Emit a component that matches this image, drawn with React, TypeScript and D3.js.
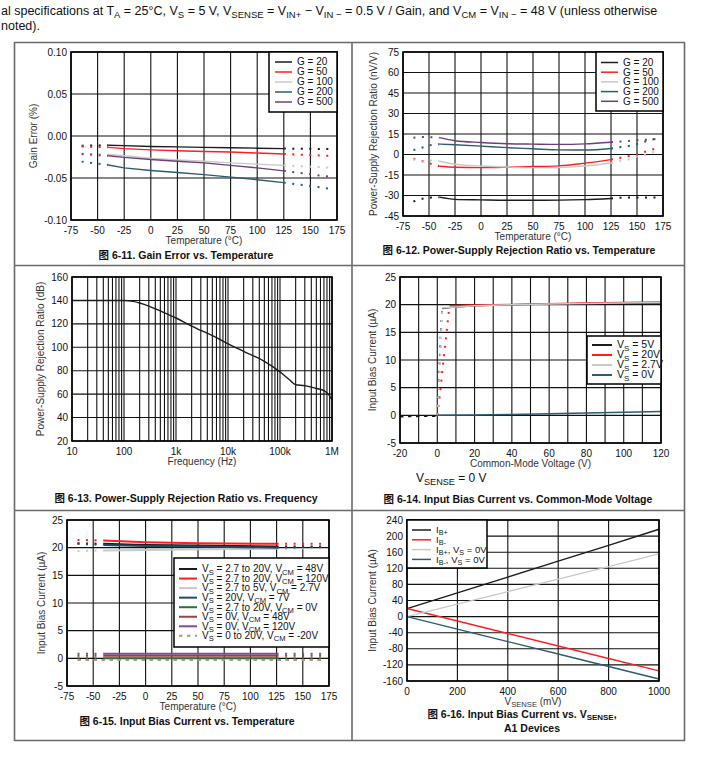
import React from 'react';
import * as d3 from 'd3';

const FONT = '"Liberation Sans", Arial, Helvetica, sans-serif';
const CJK = '"Noto Sans CJK SC", "Liberation Sans", sans-serif';

const BLACK = '#1c1c1c';
const RED = '#ff1e1e';
const GREY = '#c9c9c9';
const TEAL = '#2c5c71';
const PURPLE = '#6f3f7b';

// ---------- Fig 6-11 gain error vs temperature ----------
const tempTicks = [-75, -50, -25, 0, 25, 50, 75, 100, 125, 150, 175];
const tempLabels = ['-75', '-50', '-25', '0', '25', '50', '75', '100', '125', '150', '175'];
const tempSolid = [-40, -25, 0, 25, 50, 75, 100, 125];
const tempDotL = [-65, -40];
const tempDotR = [125, 170];
const gainLegend = ['G = 20', 'G = 50', 'G = 100', 'G = 200', 'G = 500'];
const gainErrTicks = [0.1, 0.05, 0, -0.05, -0.1];
const gainErrLabels = ['0.10', '0.05', '0.00', '-0.05', '-0.10'];
const gainErr20 = [-0.011, -0.0115, -0.0125, -0.013, -0.0135, -0.014, -0.0145, -0.015];
const gainErr50 = [-0.0135, -0.015, -0.0165, -0.0175, -0.0185, -0.019, -0.0203, -0.0214];
const gainErr100 = [-0.022, -0.0235, -0.0265, -0.0285, -0.03, -0.032, -0.0335, -0.035];
const gainErr200 = [-0.0345, -0.038, -0.041, -0.0435, -0.046, -0.049, -0.052, -0.0555];
const gainErr500 = [-0.0235, -0.0255, -0.028, -0.03, -0.032, -0.035, -0.038, -0.0415];
const gainErrL = [[-0.0115, -0.011], [-0.0125, -0.0135], [-0.021, -0.022], [-0.0305, -0.0345], [-0.0215, -0.0235]];
const gainErrR = [[-0.015, -0.0155], [-0.0214, -0.0237], [-0.035, -0.0377], [-0.0555, -0.063], [-0.0415, -0.0488]];

// ---------- Fig 6-12 PSRR vs temperature ----------
const psrrTTicks = [75, 60, 45, 30, 15, 0, -15, -30, -45];
const psrrDotLT = [-65, -55, -47, -40];
const psrrDotRT = [125, 135, 145, 152, 160, 168];
const psrr20 = [-31.2, -32.8, -33.2, -33.5, -33.5, -33.4, -33, -32.2];
const psrr50 = [-8.6, -9.3, -9.6, -9.3, -8.8, -8.3, -6.3, -3.7];
const psrr100 = [-4.9, -7.1, -8.4, -9.2, -9.6, -9.5, -8.4, -6.2];
const psrr200 = [7.6, 7.1, 6.1, 5.0, 4.2, 3.4, 3.3, 4.4];
const psrr500 = [12.3, 10.1, 8.8, 7.9, 7.6, 7.4, 7.8, 9.0];
const psrrL = [[-34.4, -32.2, -31.5, -31.2], [-3.0, -5.2, -7.0, -8.6], [-3.5, -5.4, -4.3, -4.9], [3.2, 5.4, 7.1, 7.6], [12.3, 12.8, 12.6, 12.3]];
const psrrR = [
  [-32.2, -31.6, -31.5, -31.4, -31.4, -31.4],
  [-3.7, -2.2, -0.7, 0.7, 2.5, 4.4],
  [-6.2, -4.4, -3.0, -1.0, 0.3, 2.5],
  [4.4, 5.6, 6.6, 8.1, 10, 11.5],
  [9.0, 9.6, 10.1, 10.6, 10.8, 11.3],
];

// ---------- Fig 6-13 PSRR vs frequency ----------
const freqTicks = [10, 100, 1e3, 1e4, 1e5, 1e6];
const freqLabels = ['10', '100', '1k', '10k', '100k', '1M'];
const dbTicks = [160, 140, 120, 100, 80, 60, 40, 20];
const psrrFreqHz = [10, 100, 150, 200, 300, 500, 1000, 2000, 3000, 5000, 10000, 20000, 50000, 100000, 150000, 200000, 300000, 500000, 700000, 850000, 1000000];
const psrrDb = [140, 140, 139.2, 137.8, 135.2, 131, 125, 118, 114.5, 110, 103, 96.5, 88, 79, 72.5, 68, 67.3, 64.8, 63, 60, 55];

// ---------- Fig 6-14 bias current vs common-mode voltage ----------
const vcmTicks = [-20, 0, 20, 40, 60, 80, 100, 120];
const vcmGrid = [-20, -10, 0, 10, 20, 30, 40, 50, 60, 70, 80, 90, 100, 110, 120];
const ibTicks = [25, 20, 15, 10, 5, 0, -5];
const vcmLegend = ['V_{S} = 5V', 'V_{S} = 20V', 'V_{S} = 2.7V', 'V_{S} = 0V'];
const vcm5 = [2.7, 10, 20, 40, 60, 80, 100, 120];
const ib5V = [19.3, 19.6, 19.8, 20.0, 20.1, 20.2, 20.25, 20.3];
const vcm20 = [6.5, 10, 20, 40, 60, 80, 100, 120];
const ib20V = [19.8, 19.85, 19.95, 20.05, 20.15, 20.3, 20.4, 20.5];
const vcm27 = [2.7, 10, 20, 40, 60, 80, 100, 120];
const ib27V = [19.4, 19.6, 19.8, 20.0, 20.1, 20.2, 20.3, 20.4];
const vcm0 = [0, 20, 40, 60, 80, 100, 120];
const ib0V = [0, 0.05, 0.15, 0.3, 0.42, 0.56, 0.7];
const rampVcm5 = [0, 0.6, 1.2, 1.8, 2.4, 2.7];
const rampIb5 = [0, 4, 9, 14, 18, 19.3];
const rampVcm27 = [0, 0.8, 1.5, 2.1, 2.7];
const rampIb27 = [0, 5, 10, 15, 19.4];
const rampVcm20 = [0, 1.5, 3, 4.5, 6.5];
const rampIb20 = [0, 4, 9, 13.5, 19.8];
const negVcm = [-20, 0];
const negIb = [-0.25, -0.15];

// ---------- Fig 6-15 bias current vs temperature ----------
const ibtSolidT = [-40, 0, 50, 125];
const ibtLegend = [
  'V_{S} = 2.7 to 20V, V_{CM} = 48V',
  'V_{S} = 2.7 to 20V, V_{CM} = 120V',
  'V_{S} = 2.7 to 5V, V_{CM} = 2.7V',
  'V_{S} = 20V, V_{CM} = 7V',
  'V_{S} = 2.7 to 20V, V_{CM} = 0V',
  'V_{S} = 0V, V_{CM} = 48V',
  'V_{S} = 0V, V_{CM} = 120V',
  'V_{S} = 0 to 20V, V_{CM} = -20V',
];
const ibTTicks = [25, 20, 15, 10, 5, 0, -5];
const ibt48 = [20.7, 20.5, 20.4, 20.2];
const ibt120 = [21.3, 21.0, 20.8, 20.7];
const ibt27 = [19.5, 19.6, 19.7, 19.8];
const ibt7 = [20.5, 20.3, 20.2, 20.0];
const ibt0V = [0.0, 0.0, 0.0, 0.0];
const ibt0V48 = [0.45, 0.45, 0.45, 0.45];
const ibt0V120 = [0.85, 0.85, 0.85, 0.85];
const ibtL = [[20.8, 20.7], [21.4, 21.3], [19.4, 19.5], [20.7, 20.5], [0, 0], [0.45, 0.45], [0.85, 0.85]];
const ibtR = [[20.2, 20.2], [20.7, 20.7], [19.8, 19.9], [20.0, 20.1], [0, 0], [0.45, 0.45], [0.85, 0.85]];
const ibtNegT = [-65, 170];
const ibtNeg = [-0.3, -0.3];

// ---------- Fig 6-16 bias current vs VSENSE ----------
const vsenseTicks = [0, 200, 400, 600, 800, 1000];
const ibSenseTicks = [240, 200, 160, 120, 80, 40, 0, -40, -80, -120, -160];
const senseLegend = ['I_{B+}', 'I_{B-}', 'I_{B+}, V_{S} = 0V', 'I_{B-}, V_{S} = 0V'];
const vsense = [0, 200, 400, 600, 800, 1000];
const ibPlus = [20, 59, 98, 138, 177, 217];
const ibMinus = [20, -11, -42, -73, -104, -135];
const ibPlus0 = [0, 31, 62, 93, 124, 156];
const ibMinus0 = [0, -31, -62, -93, -124, -155];

type Seg = { xs: number[]; ys: number[]; style?: 'dot' | 'dash' };
type Series = { label: string; color: string; segs: Seg[]; w?: number; dashLegend?: boolean };
type Leg = { x: number; y: number; w: number; h: number; row0: number; step: number; lx: number; lw: number; fs: number; sw?: number };

// text with _{...} subscripts
function Rich({ s, size }: { s: string; size: number }) {
  const parts = s.split(/(_\{[^}]*\})/).filter((p) => p.length > 0);
  const shift = size * 0.22;
  let prev = false;
  return (
    <>
      {parts.map((p, i) => {
        const sub = p.startsWith('_{');
        const dy = (sub ? shift : 0) - (prev ? shift : 0);
        prev = sub;
        return (
          <tspan key={i} dy={dy || undefined} fontSize={sub ? size * 0.76 : undefined}>
            {sub ? p.slice(2, -1) : p}
          </tspan>
        );
      })}
    </>
  );
}

function Caption({ x, y, text }: { x: number; y: number; text: string }) {
  return (
    <text x={x} y={y} textAnchor="middle" fontSize={10.5} fontWeight="bold" fill="#111">
      <tspan fontFamily={CJK}>图</tspan>
      <tspan> </tspan>
      <Rich s={text} size={10.5} />
    </text>
  );
}

function Chart(p: {
  box: [number, number, number, number];
  x: any;
  y: any;
  xGrid: number[];
  yGrid: number[];
  xTicks: number[];
  xLabels: string[];
  yTicks: number[];
  yLabels: string[];
  xTitle: string;
  yTitle: string;
  yTitleX: number;
  series: Series[];
  legend?: Leg;
  curve?: any;
}) {
  const [l, t, r, b] = p.box;
  const path = (seg: Seg) =>
    d3
      .line<number>()
      .x((_, i) => p.x(seg.xs[i]))
      .y((v) => p.y(v))
      .curve(p.curve ?? d3.curveLinear)(seg.ys) ?? '';
  const lg = p.legend;
  return (
    <g>
      {p.xGrid.map((v) => (
        <line key={'gx' + v} x1={p.x(v)} x2={p.x(v)} y1={t} y2={b} stroke="#111" strokeWidth={1.1} />
      ))}
      {p.yGrid.map((v) => (
        <line key={'gy' + v} x1={l} x2={r} y1={p.y(v)} y2={p.y(v)} stroke="#111" strokeWidth={1.1} />
      ))}
      {p.series.map((s, si) =>
        s.segs.map((seg, k) => (
          <path
            key={si + '-' + k}
            d={path(seg)}
            fill="none"
            stroke={s.color}
            strokeWidth={seg.style === 'dot' ? 2 : s.w ?? 1.4}
            strokeDasharray={seg.style === 'dot' ? '2 6.5' : seg.style === 'dash' ? '3.5 4.5' : undefined}
          />
        ))
      )}
      <rect x={l} y={t} width={r - l} height={b - t} fill="none" stroke="#000" strokeWidth={1.6} />
      {p.xTicks.map((v, i) => (
        <text key={'tx' + v} x={p.x(v)} y={b + 13.5} textAnchor="middle" fontSize={10} fill="#111">
          {p.xLabels[i]}
        </text>
      ))}
      {p.yTicks.map((v, i) => (
        <text key={'ty' + v} x={l - 4} y={p.y(v) + 3.5} textAnchor="end" fontSize={10} fill="#111">
          {p.yLabels[i]}
        </text>
      ))}
      <text x={(l + r) / 2} y={b + 24} textAnchor="middle" fontSize={10} fill="#333">
        <Rich s={p.xTitle} size={10} />
      </text>
      <text
        transform={`translate(${p.yTitleX + 3.5},${(t + b) / 2}) rotate(-90)`}
        textAnchor="middle"
        fontSize={10}
        fill="#333"
      >
        {p.yTitle}
      </text>
      {lg && (
        <g>
          <rect x={lg.x} y={lg.y} width={lg.w} height={lg.h} fill="#fff" stroke="#000" strokeWidth={1.5} />
          {p.series.map((s, i) => {
            const yy = lg.row0 + i * lg.step;
            return (
              <g key={'lg' + i}>
                <line
                  x1={lg.lx}
                  x2={lg.lx + lg.lw}
                  y1={yy}
                  y2={yy}
                  stroke={s.color}
                  strokeWidth={lg.sw ?? 1.5}
                  strokeDasharray={s.dashLegend ? '3.5 4.5' : undefined}
                />
                <text x={lg.lx + lg.lw + 5} y={yy + 3.3} fontSize={lg.fs} fill="#111">
                  <Rich s={s.label} size={lg.fs} />
                </text>
              </g>
            );
          })}
        </g>
      )}
    </g>
  );
}

const tempSeries = (
  label: string,
  color: string,
  solid: number[],
  solidT: number[],
  lt: number[],
  lv: number[],
  rt: number[],
  rv: number[],
  w?: number
): Series => ({
  label,
  color,
  w,
  segs: [
    { xs: lt, ys: lv, style: 'dot' },
    { xs: rt, ys: rv, style: 'dot' },
    { xs: solidT, ys: solid },
  ],
});

function Fig611() {
  const x = d3.scaleLinear().domain([-75, 175]).range([71, 337]);
  const y = d3.scaleLinear().domain([-0.1, 0.1]).range([220, 52]);
  const colors = [BLACK, RED, GREY, TEAL, PURPLE];
  const vals = [gainErr20, gainErr50, gainErr100, gainErr200, gainErr500];
  const series = gainLegend.map((g, i) =>
    tempSeries(g, colors[i], vals[i], tempSolid, tempDotL, gainErrL[i], tempDotR, gainErrR[i])
  );
  return (
    <g>
      <Chart
        box={[71, 52, 337, 220]}
        x={x}
        y={y}
        xGrid={tempTicks}
        yGrid={gainErrTicks}
        xTicks={tempTicks}
        xLabels={tempLabels}
        yTicks={gainErrTicks}
        yLabels={gainErrLabels}
        xTitle="Temperature (°C)"
        yTitle="Gain Error (%)"
        yTitleX={33}
        series={series}
        legend={{ x: 269, y: 52, w: 68, h: 60, row0: 62, step: 10, lx: 275, lw: 17, fs: 10 }}
      />
      <Caption x={186} y={259} text="6-11. Gain Error vs. Temperature" />
    </g>
  );
}

function Fig612() {
  const x = d3.scaleLinear().domain([-75, 175]).range([403, 663]);
  const y = d3.scaleLinear().domain([-45, 75]).range([216, 52]);
  const colors = [BLACK, RED, GREY, TEAL, PURPLE];
  const vals = [psrr20, psrr50, psrr100, psrr200, psrr500];
  const series = gainLegend.map((g, i) =>
    tempSeries(g, colors[i], vals[i], tempSolid, psrrDotLT, psrrL[i], psrrDotRT, psrrR[i])
  );
  return (
    <g>
      <Chart
        box={[403, 52, 663, 216]}
        x={x}
        y={y}
        xGrid={tempTicks}
        yGrid={psrrTTicks}
        xTicks={tempTicks}
        xLabels={tempLabels}
        yTicks={psrrTTicks}
        yLabels={psrrTTicks.map(String)}
        xTitle="Temperature (°C)"
        yTitle="Power-Supply Rejection Ratio (nV/V)"
        yTitleX={373}
        series={series}
        curve={d3.curveMonotoneX}
        legend={{ x: 596, y: 52, w: 67, h: 59, row0: 62.5, step: 9.7, lx: 601, lw: 17, fs: 10 }}
      />
      <Caption x={519} y={254} text="6-12. Power-Supply Rejection Ratio vs. Temperature" />
    </g>
  );
}

function Fig613() {
  const x = d3.scaleLog().domain([10, 1e6]).range([72, 332]);
  const y = d3.scaleLinear().domain([20, 160]).range([441, 277]);
  const series: Series[] = [{ label: 'PSRR', color: BLACK, segs: [{ xs: psrrFreqHz, ys: psrrDb }] }];
  return (
    <g>
      <Chart
        box={[72, 277, 332, 441]}
        x={x}
        y={y}
        xGrid={x.ticks()}
        yGrid={dbTicks}
        xTicks={freqTicks}
        xLabels={freqLabels}
        yTicks={dbTicks}
        yLabels={dbTicks.map(String)}
        xTitle="Frequency (Hz)"
        yTitle="Power-Supply Rejection Ratio (dB)"
        yTitleX={40}
        series={series}
        curve={d3.curveMonotoneX}
      />
      <Caption x={186} y={502} text="6-13. Power-Supply Rejection Ratio vs. Frequency" />
    </g>
  );
}

function Fig614() {
  const x = d3.scaleLinear().domain([-20, 120]).range([400, 661]);
  const y = d3.scaleLinear().domain([-5, 25]).range([443, 277]);
  const series: Series[] = [
    { label: vcmLegend[0], color: BLACK, w: 1.5, segs: [{ xs: negVcm, ys: negIb, style: 'dash' }, { xs: rampVcm5, ys: rampIb5, style: 'dot' }, { xs: vcm5, ys: ib5V }] },
    { label: vcmLegend[1], color: RED, w: 1.5, segs: [{ xs: rampVcm20, ys: rampIb20, style: 'dot' }, { xs: vcm20, ys: ib20V }] },
    { label: vcmLegend[2], color: GREY, w: 1.5, segs: [{ xs: rampVcm27, ys: rampIb27, style: 'dot' }, { xs: vcm27, ys: ib27V }] },
    { label: vcmLegend[3], color: TEAL, w: 1.5, segs: [{ xs: vcm0, ys: ib0V }] },
  ];
  return (
    <g>
      <Chart
        box={[400, 277, 661, 443]}
        x={x}
        y={y}
        xGrid={vcmGrid}
        yGrid={ibTicks}
        xTicks={vcmTicks}
        xLabels={vcmTicks.map(String)}
        yTicks={ibTicks}
        yLabels={ibTicks.map(String)}
        xTitle="Common-Mode Voltage (V)"
        yTitle="Input Bias Current (µA)"
        yTitleX={372}
        series={series}
        legend={{ x: 587, y: 336, w: 74, h: 48, row0: 345, step: 10, lx: 592, lw: 20, fs: 10.5, sw: 2 }}
      />
      <text x={416} y={482} fontSize={12} fill="#111">
        <Rich s="V_{SENSE} = 0 V" size={12} />
      </text>
      <Caption x={518} y={503} text="6-14. Input Bias Current vs. Common-Mode Voltage" />
    </g>
  );
}

function Fig615() {
  const x = d3.scaleLinear().domain([-75, 175]).range([67, 329]);
  const y = d3.scaleLinear().domain([-5, 25]).range([686, 520]);
  const colors = [BLACK, RED, GREY, '#1f4d62', '#2f6f3f', '#a04040', '#7b4c94'];
  const vals = [ibt48, ibt120, ibt27, ibt7, ibt0V, ibt0V48, ibt0V120];
  const series: Series[] = vals.map((v, i) =>
    tempSeries(ibtLegend[i], colors[i], v, ibtSolidT, tempDotL, ibtL[i], tempDotR, ibtR[i], 2)
  );
  series.push({ label: ibtLegend[7], color: '#a89b78', dashLegend: true, w: 1.8, segs: [{ xs: ibtNegT, ys: ibtNeg, style: 'dash' }] });
  return (
    <g>
      <Chart
        box={[67, 520, 329, 686]}
        x={x}
        y={y}
        xGrid={tempTicks}
        yGrid={ibTTicks}
        xTicks={tempTicks}
        xLabels={tempLabels}
        yTicks={ibTTicks}
        yLabels={ibTTicks.map(String)}
        xTitle="Temperature (°C)"
        yTitle="Input Bias Current (µA)"
        yTitleX={41}
        series={series}
        legend={{ x: 174, y: 558, w: 155, h: 89, row0: 569, step: 9.55, lx: 179, lw: 18, fs: 10, sw: 2 }}
      />
      <Caption x={187} y={725} text="6-15. Input Bias Current vs. Temperature" />
    </g>
  );
}

function Fig616() {
  const x = d3.scaleLinear().domain([0, 1000]).range([407, 659]);
  const y = d3.scaleLinear().domain([-160, 240]).range([681, 520]);
  const series: Series[] = [
    { label: senseLegend[0], color: BLACK, segs: [{ xs: vsense, ys: ibPlus }] },
    { label: senseLegend[1], color: RED, segs: [{ xs: vsense, ys: ibMinus }] },
    { label: senseLegend[2], color: GREY, segs: [{ xs: vsense, ys: ibPlus0 }] },
    { label: senseLegend[3], color: TEAL, segs: [{ xs: vsense, ys: ibMinus0 }] },
  ];
  return (
    <g>
      <Chart
        box={[407, 520, 659, 681]}
        x={x}
        y={y}
        xGrid={vsenseTicks}
        yGrid={ibSenseTicks}
        xTicks={vsenseTicks}
        xLabels={vsenseTicks.map(String)}
        yTicks={ibSenseTicks}
        yLabels={ibSenseTicks.map(String)}
        xTitle="V_{SENSE} (mV)"
        yTitle="Input Bias Current (µA)"
        yTitleX={372}
        series={series}
        legend={{ x: 407, y: 520, w: 80, h: 48, row0: 530, step: 9.8, lx: 412, lw: 19, fs: 9.5 }}
      />
      <Caption x={522} y={718} text="6-16. Input Bias Current vs. V_{SENSE}," />
      <text x={532} y={732} textAnchor="middle" fontSize={10.5} fontWeight="bold" fill="#111">
        A1 Devices
      </text>
    </g>
  );
}

function Header() {
  const line1 =
    'al specifications at T_{A} = 25°C, V_{S} = 5 V, V_{SENSE} = V_{IN+}  −  V_{IN −} = 0.5 V / Gain, and V_{CM} = V_{IN −} = 48 V (unless otherwise';
  return (
    <g fill="#111">
      <text x={1} y={15} fontSize={12.5}>
        <Rich s={line1} size={12.5} />
      </text>
      <text x={1} y={30} fontSize={12.5}>
        noted).
      </text>
    </g>
  );
}

function Frame() {
  return (
    <g stroke="#6a6a6a" strokeWidth={1.6}>
      <line x1={14} x2={685} y1={42.5} y2={42.5} />
      <line x1={14} x2={685} y1={265.5} y2={265.5} />
      <line x1={14} x2={685} y1={510.5} y2={510.5} />
      <line x1={14} x2={685} y1={740.5} y2={740.5} />
      <line x1={14.5} x2={14.5} y1={42} y2={741} />
      <line x1={352} x2={352} y1={42} y2={741} />
      <line x1={684.5} x2={684.5} y1={42} y2={741} />
    </g>
  );
}

export default function App() {
  return (
    <svg
      width={710}
      height={761}
      style={{ position: 'absolute', left: 0, top: 0, background: '#fff' }}
      fontFamily={FONT}
    >
      <rect width={710} height={761} fill="#fff" />
      <Header />
      <Frame />
      <Fig611 />
      <Fig612 />
      <Fig613 />
      <Fig614 />
      <Fig615 />
      <Fig616 />
    </svg>
  );
}
